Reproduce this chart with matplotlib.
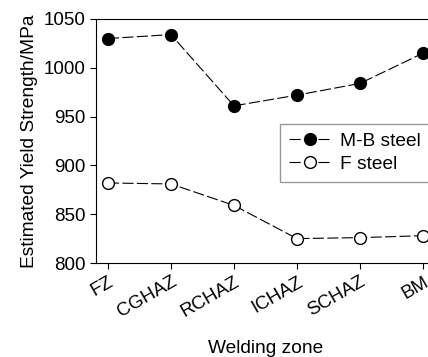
import matplotlib
matplotlib.use('Agg')
import matplotlib.pyplot as plt

zones = ['FZ', 'CGHAZ', 'RCHAZ', 'ICHAZ', 'SCHAZ', 'BM']
mb_steel = [1030, 1034, 961, 972, 984, 1015]
f_steel = [882, 881, 859, 825, 826, 828]

plt.rcParams['font.family'] = ['Liberation Sans', 'DejaVu Sans']

fig = plt.figure(figsize=(4.28, 3.57), dpi=100)
ax = fig.add_axes([0.2243, 0.2633, 0.792, 0.6835])

x = range(len(zones))
ax.plot(x, mb_steel, color='black', lw=0.8, dashes=(10, 3), marker='o',
        markersize=8.5, markerfacecolor='black', markeredgecolor='black', label='M-B steel')
ax.plot(x, f_steel, color='black', lw=0.8, dashes=(10, 3), marker='o',
        markersize=8.5, markerfacecolor='white', markeredgecolor='black', label='F steel')

ax.set_xlim(-0.19, 5.19)
ax.set_ylim(800, 1050)
ax.set_yticks([800, 850, 900, 950, 1000, 1050])
ax.set_xticks(list(x))
ax.set_xticklabels(zones, rotation=30, ha='right', rotation_mode='anchor')
ax.tick_params(direction='out', labelsize=13.5, length=4, width=0.8)
ax.spines['right'].set_visible(False)
for s in ['left', 'bottom', 'top']:
    ax.spines[s].set_linewidth(0.8)

ax.set_ylabel('Estimated Yield Strength/MPa', fontsize=13.8, labelpad=4)
ax.set_xlabel('Welding zone', fontsize=13.8, labelpad=14)

leg = ax.legend(loc='upper left', bbox_to_anchor=(0.543, 0.57), fontsize=13.8,
                frameon=True, fancybox=False, handlelength=2.2, borderpad=0.45,
                labelspacing=0.3, handletextpad=0.5, borderaxespad=0)
leg.get_frame().set_edgecolor('#808080')
leg.get_frame().set_linewidth(1.0)

fig.savefig('out.png', dpi=100)
